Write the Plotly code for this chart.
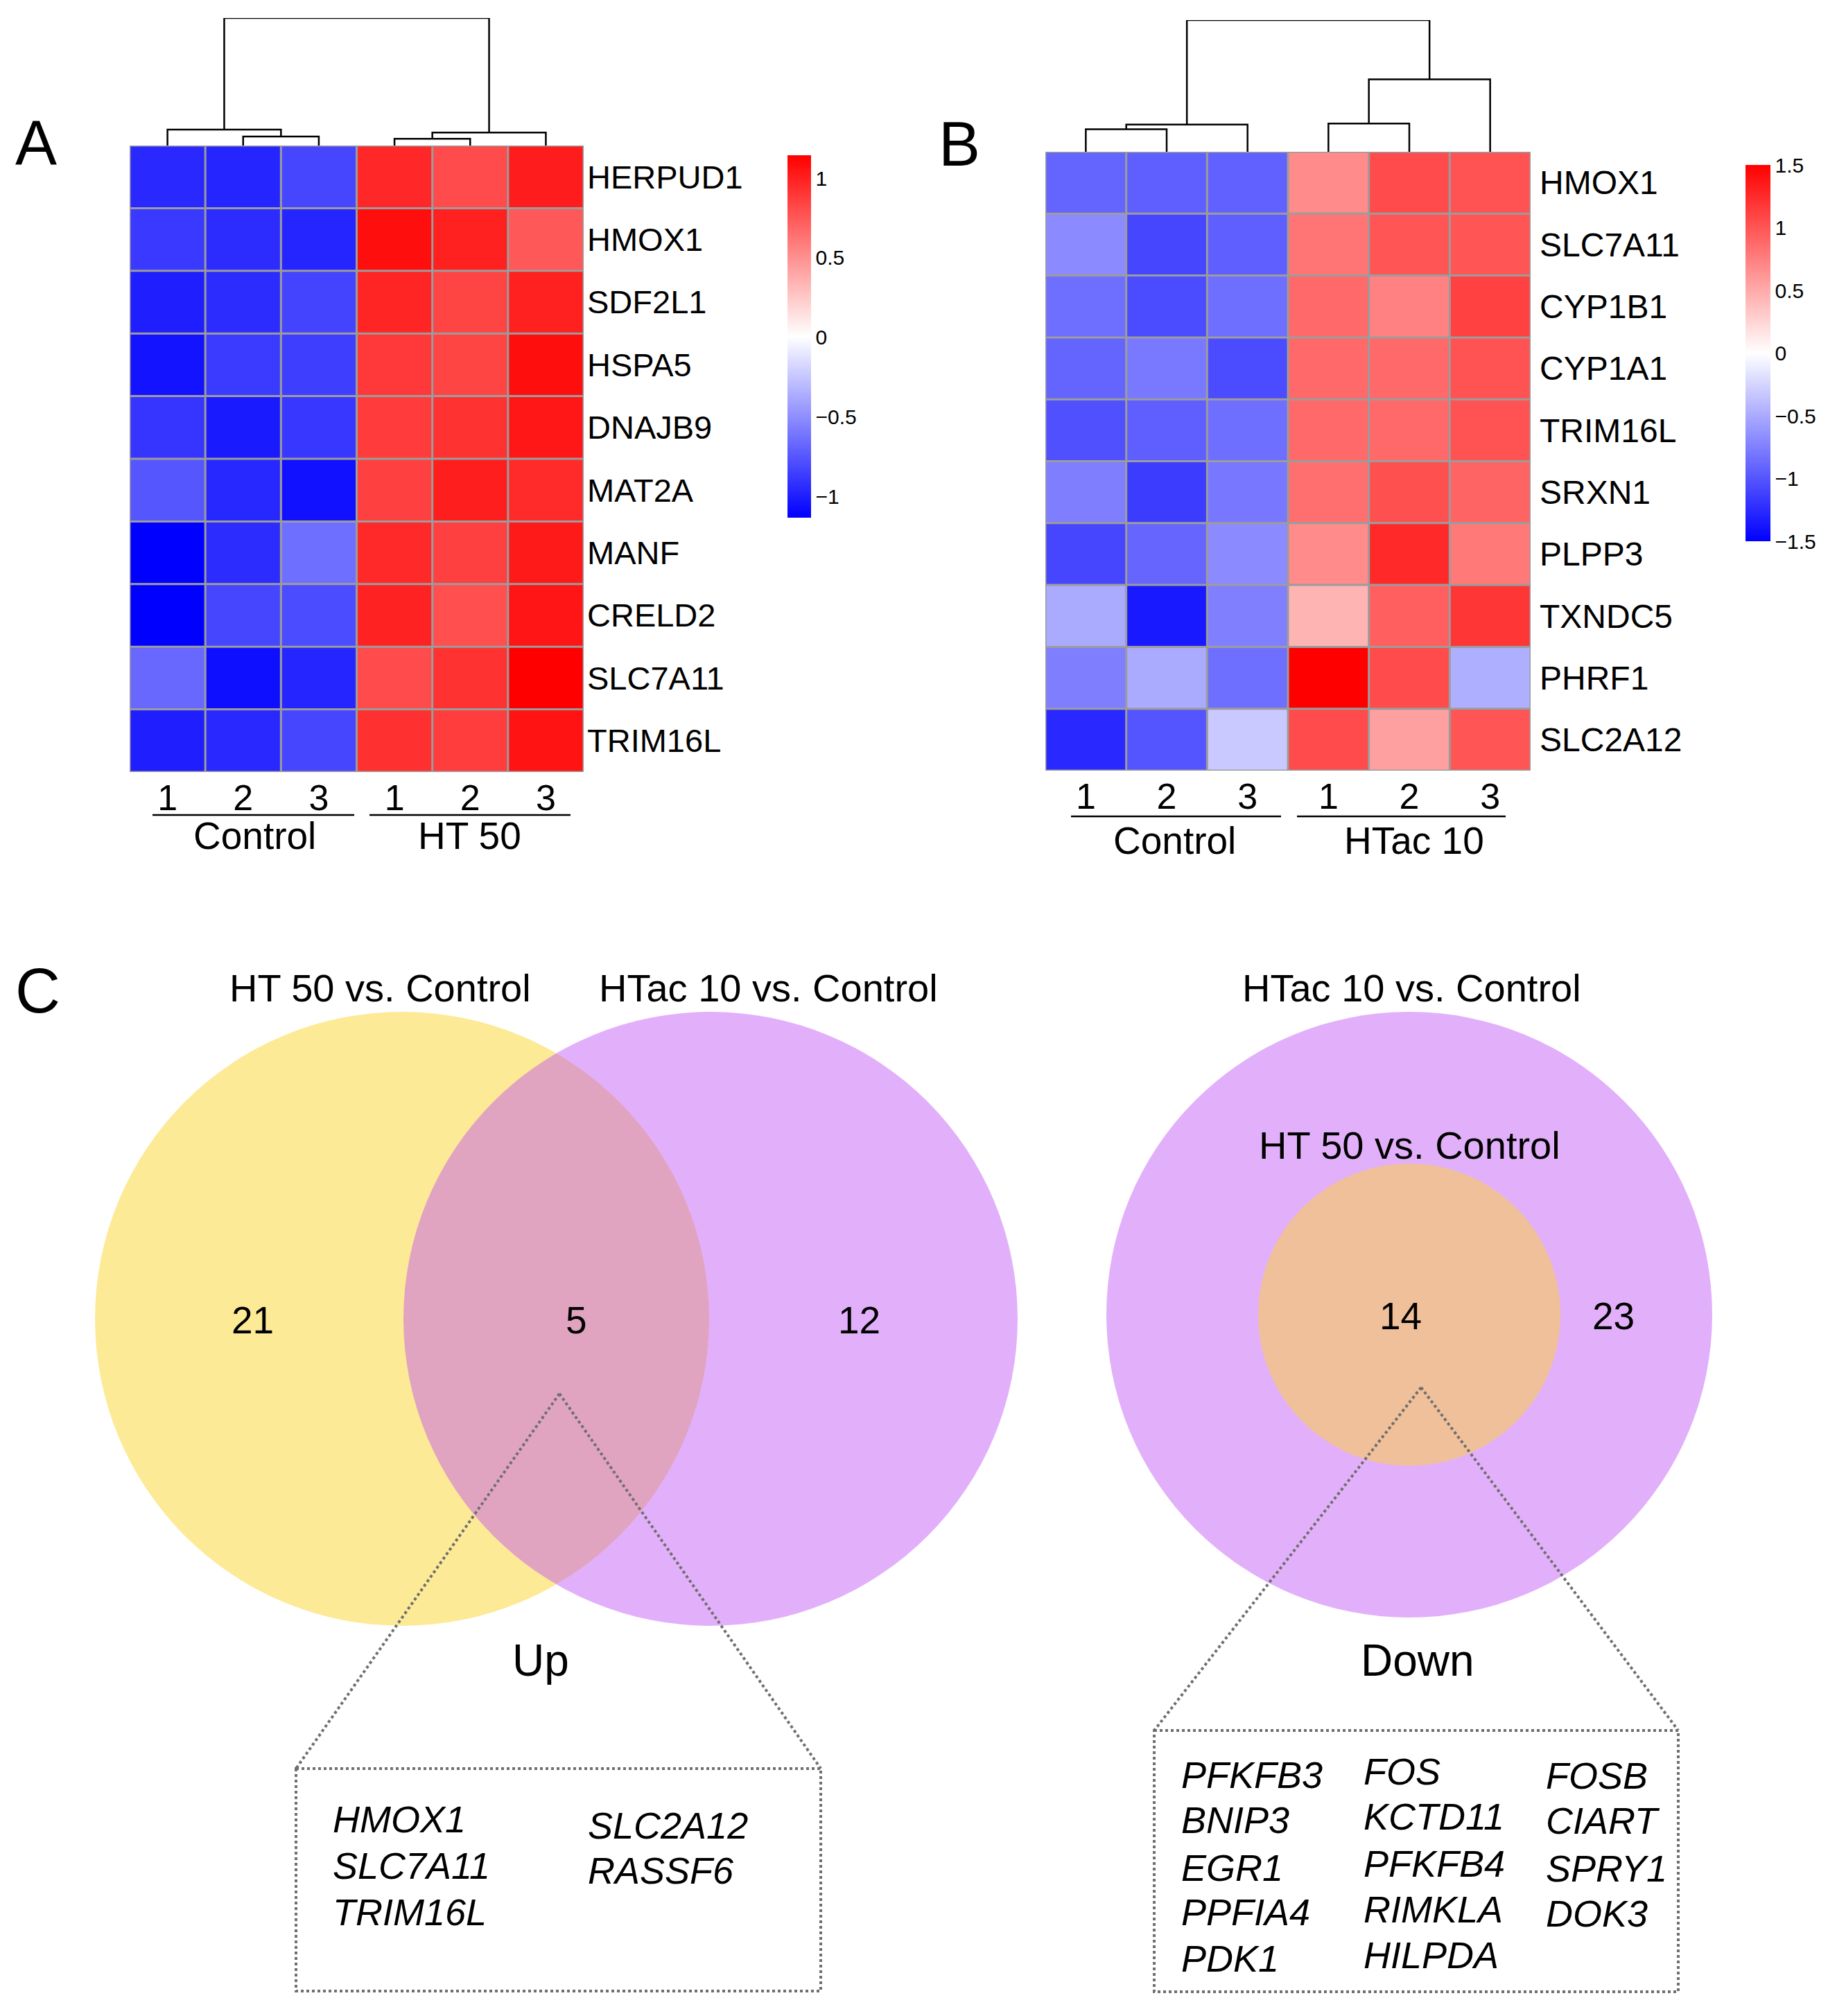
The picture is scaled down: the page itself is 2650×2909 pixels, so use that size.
import plotly.graph_objects as go

# reference canvas is 2650 x 2909; the html body adds an 8px margin, so the figure is shrunk
# by that margin on each side and positions are given in reference pixels minus the offset.
OFF = 8
W, H = 2650 - 2 * OFF, 2909 - 2 * OFF
FONT = "Arial, 'Liberation Sans', Helvetica, sans-serif"

# ---------------- data ----------------
sample_labels = ['1', '2', '3', '1', '2', '3']

genes_A = ['HERPUD1', 'HMOX1', 'SDF2L1', 'HSPA5', 'DNAJB9', 'MAT2A', 'MANF', 'CRELD2', 'SLC7A11', 'TRIM16L']
values_A = [
    [-0.95, -0.97, -0.82, 0.97, 0.81, 1.02],
    [-0.88, -0.94, -0.97, 1.08, 1.00, 0.75],
    [-1.00, -0.94, -0.83, 0.98, 0.84, 1.00],
    [-1.05, -0.87, -0.86, 0.89, 0.84, 1.08],
    [-0.90, -1.02, -0.89, 0.88, 0.92, 1.04],
    [-0.75, -0.96, -1.06, 0.86, 1.01, 0.95],
    [-1.135, -0.94, -0.64, 0.96, 0.86, 1.03],
    [-1.135, -0.82, -0.80, 0.99, 0.79, 1.05],
    [-0.67, -1.07, -0.97, 0.81, 0.92, 1.144],
    [-1.00, -0.95, -0.82, 0.93, 0.87, 1.06],
]
groups_A = ['Control', 'HT 50']
linkage_A = [[1, 2, 1.6], [0, 6, 2.8], [3, 4, 1.2], [8, 5, 2.3], [7, 9, 22.5]]
ticks_A = [-1, -0.5, 0, 0.5, 1]

genes_B = ['HMOX1', 'SLC7A11', 'CYP1B1', 'CYP1A1', 'TRIM16L', 'SRXN1', 'PLPP3', 'TXNDC5', 'PHRF1', 'SLC2A12']
values_B = [
    [-0.91, -0.94, -0.93, 0.68, 1.06, 1.02],
    [-0.68, -1.09, -0.94, 0.82, 1.00, 1.00],
    [-0.85, -1.06, -0.85, 0.88, 0.74, 1.12],
    [-0.91, -0.79, -1.06, 0.88, 0.88, 1.02],
    [-1.03, -0.94, -0.85, 0.88, 0.88, 1.02],
    [-0.76, -1.15, -0.80, 0.85, 1.03, 0.91],
    [-1.09, -0.90, -0.68, 0.68, 1.26, 0.79],
    [-0.50, -1.35, -0.75, 0.44, 0.94, 1.18],
    [-0.76, -0.50, -0.85, 1.50, 1.06, -0.47],
    [-1.26, -1.00, -0.32, 1.06, 0.56, 1.00],
]
groups_B = ['Control', 'HTac 10']
linkage_B = [[0, 1, 4.0], [6, 2, 4.8], [3, 4, 5.0], [8, 5, 12.8], [7, 9, 23.3]]
ticks_B = [-1.5, -1, -0.5, 0, 0.5, 1, 1.5]

up_titles = ['HT 50 vs. Control', 'HTac 10 vs. Control']
up_counts = ['21', '5', '12']
up_genes_col1 = ['HMOX1', 'SLC7A11', 'TRIM16L']
up_genes_col2 = ['SLC2A12', 'RASSF6']

down_titles = ['HTac 10 vs. Control', 'HT 50 vs. Control']
down_counts = ['14', '23']
down_genes_col1 = ['PFKFB3', 'BNIP3', 'EGR1', 'PPFIA4', 'PDK1']
down_genes_col2 = ['FOS', 'KCTD11', 'PFKFB4', 'RIMKLA', 'HILPDA']
down_genes_col3 = ['FOSB', 'CIART', 'SPRY1', 'DOK3']

# ---------------- helpers ----------------
def xd(a, b):
    return [(a - OFF) / W, (b - OFF) / W]

def yd(top, bot):
    return [1 - (bot - OFF) / H, 1 - (top - OFF) / H]

def minus(v):
    return ('%g' % v).replace('-', '\u2212')

def dendro_xy(linkage, n):
    pos = {i: float(i) for i in range(n)}
    hgt = {i: 0.0 for i in range(n)}
    xs, ys = [], []
    for k, (a, b, h) in enumerate(linkage):
        a, b = int(a), int(b)
        xs += [pos[a], pos[a], pos[b], pos[b], None]
        ys += [hgt[a], h, h, hgt[b], None]
        pos[n + k] = (pos[a] + pos[b]) / 2
        hgt[n + k] = h
    return xs, ys

CS = [[0, 'rgb(0,0,255)'], [0.5, 'rgb(255,255,255)'], [1, 'rgb(255,0,0)']]

fig = go.Figure()

# Heatmap A
fig.add_trace(go.Heatmap(
    z=values_A, x=list(range(len(sample_labels))), y=list(range(len(genes_A))),
    colorscale=CS, zmin=-1.135, zmax=1.144, xaxis='x', yaxis='y',
    hoverinfo='skip',
    colorbar=dict(thickness=34, thicknessmode='pixels', len=523, lenmode='pixels',
                  x=(1136 - OFF) / W, xanchor='left', y=1 - (224 - OFF) / H, yanchor='top',
                  xpad=0, ypad=0, outlinewidth=0, ticks='',
                  tickvals=ticks_A, ticktext=[minus(v) for v in ticks_A],
                  tickfont=dict(size=30, family=FONT, color='black'))))

# Heatmap B
fig.add_trace(go.Heatmap(
    z=values_B, x=list(range(len(sample_labels))), y=list(range(len(genes_B))),
    colorscale=CS, zmin=-1.5, zmax=1.5, xaxis='x3', yaxis='y3',
    hoverinfo='skip',
    colorbar=dict(thickness=36, thicknessmode='pixels', len=543, lenmode='pixels',
                  x=(2518 - OFF) / W, xanchor='left', y=1 - (238 - OFF) / H, yanchor='top',
                  xpad=0, ypad=0, outlinewidth=0, ticks='',
                  tickvals=ticks_B, ticktext=[minus(v) for v in ticks_B],
                  tickfont=dict(size=30, family=FONT, color='black'))))

# Dendrograms
dxa, dya = dendro_xy(linkage_A, len(sample_labels))
fig.add_trace(go.Scatter(x=dxa, y=dya, mode='lines', xaxis='x2', yaxis='y2',
                         line=dict(color='black', width=2.5), hoverinfo='skip', showlegend=False))
dxb, dyb = dendro_xy(linkage_B, len(sample_labels))
fig.add_trace(go.Scatter(x=dxb, y=dyb, mode='lines', xaxis='x4', yaxis='y4',
                         line=dict(color='black', width=2.5), hoverinfo='skip', showlegend=False))

# overlay dummy
fig.add_trace(go.Scatter(x=[OFF], y=[OFF], mode='markers', marker=dict(opacity=0), xaxis='x5', yaxis='y5',
                         hoverinfo='skip', showlegend=False))

hidden = dict(visible=False, showgrid=False, zeroline=False, fixedrange=True)
n = len(sample_labels)

fig.update_layout(
    width=W, height=H, margin=dict(l=0, r=0, t=0, b=0),
    paper_bgcolor='white', plot_bgcolor='rgba(0,0,0,0)', showlegend=False,
    font=dict(family=FONT, color='black'),
    xaxis=dict(domain=xd(187, 842), range=[-0.5, n - 0.5], tickvals=list(range(n)), ticktext=sample_labels,
               tickfont=dict(size=52, family=FONT, color='black'), ticks='', showgrid=False, zeroline=False,
               showline=False, anchor='y', ticklabelstandoff=2),
    yaxis=dict(domain=yd(210, 1114), range=[len(genes_A) - 0.5, -0.5], tickvals=list(range(len(genes_A))),
               ticktext=genes_A, side='right', tickfont=dict(size=47, family=FONT, color='black'),
               ticks='', showgrid=False, zeroline=False, showline=False, anchor='x', ticklabelstandoff=4),
    xaxis2=dict(domain=xd(187, 842), range=[-0.5, n - 0.5], anchor='y2', **hidden),
    yaxis2=dict(domain=yd(26, 210), range=[0, linkage_A[-1][2]], anchor='x2', **hidden),
    xaxis3=dict(domain=xd(1508, 2208), range=[-0.5, n - 0.5], tickvals=list(range(n)), ticktext=sample_labels,
                tickfont=dict(size=52, family=FONT, color='black'), ticks='', showgrid=False, zeroline=False,
                showline=False, anchor='y3', ticklabelstandoff=2),
    yaxis3=dict(domain=yd(219, 1112), range=[len(genes_B) - 0.5, -0.5], tickvals=list(range(len(genes_B))),
                ticktext=genes_B, side='right', tickfont=dict(size=48, family=FONT, color='black'),
                ticks='', showgrid=False, zeroline=False, showline=False, anchor='x3', ticklabelstandoff=12),
    xaxis4=dict(domain=xd(1508, 2208), range=[-0.5, n - 0.5], anchor='y4', **hidden),
    yaxis4=dict(domain=yd(29, 219), range=[0, linkage_B[-1][2]], anchor='x4', **hidden),
    xaxis5=dict(domain=[0, 1], range=[OFF, OFF + W], anchor='y5', **hidden),
    yaxis5=dict(domain=[0, 1], range=[OFF + H, OFF], anchor='x5', **hidden),
)

shapes = []
annotations = []
GRID = '#9c9c9c'

# grid lines on heatmaps
for xa, ya, ng in [('x', 'y', len(genes_A)), ('x3', 'y3', len(genes_B))]:
    for i in range(n + 1):
        shapes.append(dict(type='line', xref=xa, yref=ya, x0=i - 0.5, x1=i - 0.5, y0=-0.5, y1=ng - 0.5,
                           line=dict(color=GRID, width=3), layer='above'))
    for j in range(ng + 1):
        shapes.append(dict(type='line', xref=xa, yref=ya, x0=-0.5, x1=n - 0.5, y0=j - 0.5, y1=j - 0.5,
                           line=dict(color=GRID, width=3), layer='above'))

def ov_line(x0, y0, x1, y1, color='black', width=2.5, dash='solid'):
    shapes.append(dict(type='line', xref='x5', yref='y5', x0=x0, y0=y0, x1=x1, y1=y1,
                       line=dict(color=color, width=width, dash=dash)))

def ov_text(x, y, text, size, xanchor='center', italic=False):
    t = '<i>%s</i>' % text if italic else text
    annotations.append(dict(xref='x5', yref='y5', x=x, y=y, text=t, showarrow=False,
                            xanchor=xanchor, yanchor='middle',
                            font=dict(size=size, family=FONT, color='black')))

# group underlines and labels
ov_line(220, 1176, 511, 1176)
ov_line(533, 1176, 823, 1176)
ov_text(367, 1206, groups_A[0], 55)
ov_text(677, 1206, groups_A[1], 55)
ov_line(1545, 1178, 1848, 1178)
ov_line(1871, 1178, 2172, 1178)
ov_text(1694, 1213, groups_B[0], 55)
ov_text(2040, 1213, groups_B[1], 55)

# panel letters
ov_text(52, 206, 'A', 90)
ov_text(1384, 208, 'B', 90)
ov_text(54, 1430, 'C', 90)

# Venn up
cy = 1903
shapes.append(dict(type='circle', xref='x5', yref='y5', x0=580 - 443, x1=580 + 443, y0=cy - 443, y1=cy + 443,
                   fillcolor='#FDEA96', line=dict(width=0), layer='below'))
shapes.append(dict(type='circle', xref='x5', yref='y5', x0=1025 - 443, x1=1025 + 443, y0=cy - 443, y1=cy + 443,
                   fillcolor='rgba(191,80,244,0.45)', line=dict(width=0), layer='below'))
ov_text(548, 1425, up_titles[0], 56)
ov_text(1108, 1425, up_titles[1], 56)
ov_text(364, 1905, up_counts[0], 55)
ov_text(831, 1905, up_counts[1], 55)
ov_text(1239, 1905, up_counts[2], 55)
ov_text(780, 2396, 'Up', 64)
DOT = '#6f6f6f'
ov_line(807, 2011, 427, 2552, color=DOT, width=4, dash='dot')
ov_line(807, 2011, 1184, 2552, color=DOT, width=4, dash='dot')
shapes.append(dict(type='rect', xref='x5', yref='y5', x0=427, x1=1184, y0=2552, y1=2873,
                   line=dict(color=DOT, width=4, dash='dot')))
for g, y in zip(up_genes_col1, [2625, 2692, 2759]):
    ov_text(478, y, g, 54, xanchor='left', italic=True)
for g, y in zip(up_genes_col2, [2634, 2699]):
    ov_text(846, y, g, 54, xanchor='left', italic=True)

# Venn down
cy2 = 1897
shapes.append(dict(type='circle', xref='x5', yref='y5', x0=2033 - 437, x1=2033 + 437, y0=cy2 - 437, y1=cy2 + 437,
                   fillcolor='#E2B0FA', line=dict(width=0), layer='below'))
shapes.append(dict(type='circle', xref='x5', yref='y5', x0=2033 - 218, x1=2033 + 218, y0=cy2 - 218, y1=cy2 + 218,
                   fillcolor='#EFC09A', line=dict(width=0), layer='below'))
ov_text(2036, 1425, down_titles[0], 56)
ov_text(2033, 1652, down_titles[1], 56)
ov_text(2020, 1899, down_counts[0], 55)
ov_text(2327, 1899, down_counts[1], 55)
ov_text(2045, 2396, 'Down', 64)
ov_line(2050, 2002, 1665, 2497, color=DOT, width=4, dash='dot')
ov_line(2050, 2002, 2421, 2497, color=DOT, width=4, dash='dot')
shapes.append(dict(type='rect', xref='x5', yref='y5', x0=1665, x1=2421, y0=2497, y1=2874,
                   line=dict(color=DOT, width=4, dash='dot')))
for g, y in zip(down_genes_col1, [2561, 2626, 2695, 2759, 2826]):
    ov_text(1702, y, g, 54, xanchor='left', italic=True)
for g, y in zip(down_genes_col2, [2556, 2621, 2689, 2755, 2821]):
    ov_text(1965, y, g, 54, xanchor='left', italic=True)
for g, y in zip(down_genes_col3, [2562, 2627, 2696, 2761]):
    ov_text(2228, y, g, 54, xanchor='left', italic=True)

fig.update_layout(shapes=shapes, annotations=annotations)
fig.write_html("out.html")
